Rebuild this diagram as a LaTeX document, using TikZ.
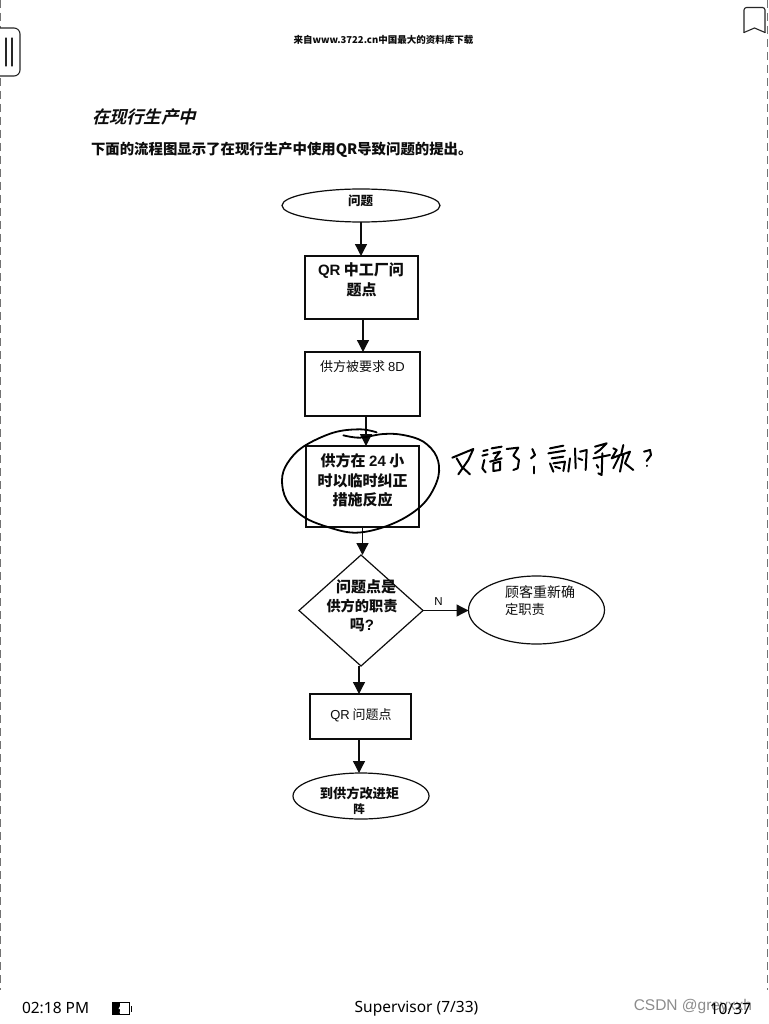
\documentclass[tikz,border=0pt]{standalone}
\usepackage{fontspec}
\usetikzlibrary{arrows.meta,shapes.geometric}
\setmainfont{Noto Sans CJK SC}
\newfontfamily\cjkslant[FakeSlant=0.25]{Noto Sans CJK SC Bold}
\newfontfamily\lat{Liberation Sans}
\newfontfamily\ui{Noto Sans}
\newcommand\fsz[1]{\fontsize{#1}{#1}\selectfont}
\definecolor{ink}{gray}{0.05}
\definecolor{page}{gray}{0.45}
\tikzset{
  x=1pt,y=-1pt,
  shapeline/.style={draw=ink,line width=1.2pt,inner sep=0pt,outer sep=0pt},
  boxnode/.style={shapeline,rectangle},
  ovalnode/.style={shapeline,ellipse},
  diamondnode/.style={shapeline,diamond},
  conn/.style={draw=ink,line width=1.3pt,-{Triangle[length=12pt,width=12pt]}},
  txt/.style={inner sep=0pt,outer sep=0pt,text=ink,align=center},
  hand/.style={draw=black,line width=2pt,line cap=round,line join=round},
  uiline/.style={draw=black!85,line width=1.1pt,line cap=round,line join=round},
}
\begin{document}
\begin{tikzpicture}
\useasboundingbox (0,0) rectangle (768,1024);
\fill[white] (0,0) rectangle (768,1024);
% page edges
\coordinate (edgeLt) at (0.7,0); \coordinate (edgeLb) at (0.7,990);
\coordinate (edgeRt) at (767,0); \coordinate (edgeRb) at (767,990);
\draw[page,line width=1pt,dash pattern=on 8pt off 5pt] (edgeLt) -- (edgeLb);
\draw[page,line width=1pt,dash pattern=on 8pt off 5pt] (edgeRt) -- (edgeRb);
% reader chrome
\fill[white] (0,28) rectangle (20,76);
\draw[uiline,rounded corners=6pt] (0,28) -- (20,28) -- (20,76) -- (0,76);
\draw[uiline] (6,38) -- (6,66);
\draw[uiline] (12,38) -- (12,66);
\fill[white] (744,7) rectangle (766,33);
\draw[uiline,rounded corners=2.5pt] (744,32.5) -- (744,7.5) -- (765,7.5) -- (765,32.5);
\draw[uiline] (744,32.5) -- (754.5,28) -- (765,32.5);
% page text
\node[txt,font=\bfseries\fsz{9.5}] (hdr) at (383.5,40) {来自www.3722.cn中国最大的资料库下载};
\node[txt,anchor=west,font=\cjkslant\fsz{17.3}] (ttl) at (92,116.5) {在现行生产中};
\node[txt,anchor=west,font=\bfseries\fsz{14.4}] (intro) at (91,149.5) {下面的流程图显示了在现行生产中使用QR导致问题的提出。};
% shapes
\node[ovalnode,minimum width=158pt,minimum height=33pt] (start) at (361,205.5) {};
\node[boxnode,minimum width=113pt,minimum height=63pt] (qr) at (361.5,287.5) {};
\node[boxnode,minimum width=115pt,minimum height=64pt] (eightd) at (362.5,384) {};
\node[boxnode,minimum width=113pt,minimum height=81pt] (react) at (362.5,486.5) {};
\node[diamondnode,minimum width=124pt,minimum height=111pt] (dec) at (361,610.5) {};
\node[ovalnode,minimum width=136pt,minimum height=68pt] (cust) at (536.5,610) {};
\node[boxnode,minimum width=101pt,minimum height=45pt] (qrp) at (360.5,716.5) {};
\node[ovalnode,minimum width=136pt,minimum height=46pt] (matrix) at (361,796) {};
% connectors
\draw[conn] (start.south) -- (start.south |- qr.north);
\draw[conn] ([xshift=1.5pt]qr.south) -- ([xshift=1.5pt]qr.south |- eightd.north);
\draw[conn] ([xshift=3.5pt]eightd.south) -- ([xshift=3.5pt]eightd.south |- react.north);
\draw[conn] (react.south) -- (react.south |- dec.north);
\draw[conn] (dec.east) -- (dec.east -| cust.west);
\draw[conn] ([xshift=-2pt]dec.south) -- ([xshift=-2pt]dec.south |- qrp.north);
\draw[conn] ([xshift=-2pt]dec.south |- qrp.south) -- ([xshift=-2pt]dec.south |- matrix.north);
% shape texts
\node[txt,font=\bfseries\fsz{12.5}] (tstart) at (360.5,201) {问题};
\node[txt,font=\bfseries\fsz{15}] (tqra) at (361,271) {{\lat\bfseries QR} 中工厂问};
\node[txt,font=\bfseries\fsz{15}] (tqrb) at (361.5,290) {题点};
\node[txt,font=\fsz{13}] (t8d) at (362.5,366.5) {供方被要求 {\lat 8D}};
\node[txt,font=\bfseries\fsz{15}] (tra) at (362.5,461) {供方在 {\lat\bfseries 24} 小};
\node[txt,font=\bfseries\fsz{15}] (trb) at (362.5,481) {时以临时纠正};
\node[txt,font=\bfseries\fsz{15}] (trc) at (362.5,500) {措施反应};
\node[txt,font=\bfseries\fsz{15}] (tda) at (366,587) {问题点是};
\node[txt,font=\bfseries\fsz{14.2}] (tdb) at (362,606) {供方的职责};
\node[txt,font=\bfseries\fsz{15}] (tdc) at (362,625) {吗{\lat\bfseries ?}};
\node[txt,font=\fsz{11.5},text=black] (tn) at (438.5,601.5) {\lat N};
\node[txt,anchor=west,font=\fsz{14}] (tca) at (505,592) {顾客重新确};
\node[txt,anchor=west,font=\fsz{13.3}] (tcb) at (505,609) {定职责};
\node[txt,font=\fsz{13}] (tqp) at (361,715.5) {{\lat QR} 问题点};
\node[txt,font=\bfseries\fsz{13.2}] (tma) at (359.5,793) {到供方改进矩};
\node[txt,font=\bfseries\fsz{11.5}] (tmb) at (359,809) {阵};
% handwritten circle
\draw[hand,shift={(260,400)},scale=0.3333,line width=1.8pt] plot[smooth,tension=0.6] coordinates {(350,97) (300,88) (220,98) (130,140) (82,190) (66,240) (80,300) (130,350) (200,380) (280,398) (360,385) (440,350) (500,300) (535,230) (530,170) (490,125) (430,105) (370,102) (300,113) (250,106)};
% handwritten remark
\begin{scope}[shift={(445,435)},scale=0.3333]
\draw[hand] (22,68) -- (85,42) -- (70,75) -- (40,118);
\draw[hand] (35,70) -- (50,95) -- (75,118);
\draw[hand] (115,48) -- (128,45);
\draw[hand] (112,62) -- (128,58);
\draw[hand] (118,75) -- (112,100) -- (122,112);
\draw[hand] (140,40) -- (170,35);
\draw[hand] (145,55) -- (165,50) -- (150,70);
\draw[hand] (135,80) -- (170,70);
\draw[hand] (145,85) -- (165,80) -- (165,105) -- (145,108) -- cycle;
\draw[hand] (185,42) -- (220,38) -- (205,62) -- (222,75) -- (218,100) -- (205,105);
\draw[hand] (262,42) -- (270,60) -- (258,70);
\draw[hand] (268,95) -- (268,115);
\end{scope}
\begin{scope}[shift={(545,435)},scale=0.3333]
\draw[hand] (15,40) -- (55,32);
\draw[hand] (10,55) -- (60,47);
\draw[hand] (20,70) -- (55,65);
\draw[hand] (15,85) -- (25,110);
\draw[hand] (25,85) -- (60,80) -- (55,108);
\draw[hand] (30,95) -- (45,100);
\draw[hand] (75,70) -- (70,110);
\draw[hand] (90,40) -- (92,100);
\draw[hand] (105,50) -- (125,45) -- (122,105);
\draw[hand] (100,70) -- (112,75);
\draw[hand] (150,35) -- (185,25) -- (165,45) -- (150,55);
\draw[hand] (145,70) -- (195,60);
\draw[hand] (172,55) -- (170,120) -- (160,115);
\draw[hand] (155,90) -- (160,98);
\draw[hand] (205,40) -- (215,45) -- (200,70) -- (225,60) -- (205,100);
\draw[hand] (235,30) -- (228,60) -- (255,50) -- (240,85) -- (265,105);
\draw[hand] (235,60) -- (225,110);
\draw[hand] (297,50) -- (315,45) -- (318,60) -- (305,78);
\draw[hand] (305,92) -- (305,93);
\end{scope}
% status bar
\node[txt,anchor=west,font=\ui\fsz{15.5},text=black] (time) at (22,1007.5) {02:18 PM};
\draw[black,line width=1pt] (112.5,1002.5) rectangle (129.5,1014.5);
\fill[black] (112.5,1002.5) rectangle (120,1014.5);
\fill[black] (130.5,1005.5) rectangle (132,1011.5);
\fill[white] (121,1004) -- (118.5,1009) -- (120.5,1009) -- (119.5,1013) -- (123,1007.5) -- (121,1007.5) -- cycle;
\node[txt,font=\ui\fsz{15.5},text=black] (book) at (416.5,1009) {Supervisor (7/33)};
\node[txt,anchor=east,font=\lat\fsz{15.5},text=black!45] (wm) at (752,1006.5) {CSDN @greyxxh};
\node[txt,anchor=east,font=\ui\fsz{15.5},text=black] (pg) at (751,1008.5) {10/37};
\end{tikzpicture}
\end{document}
